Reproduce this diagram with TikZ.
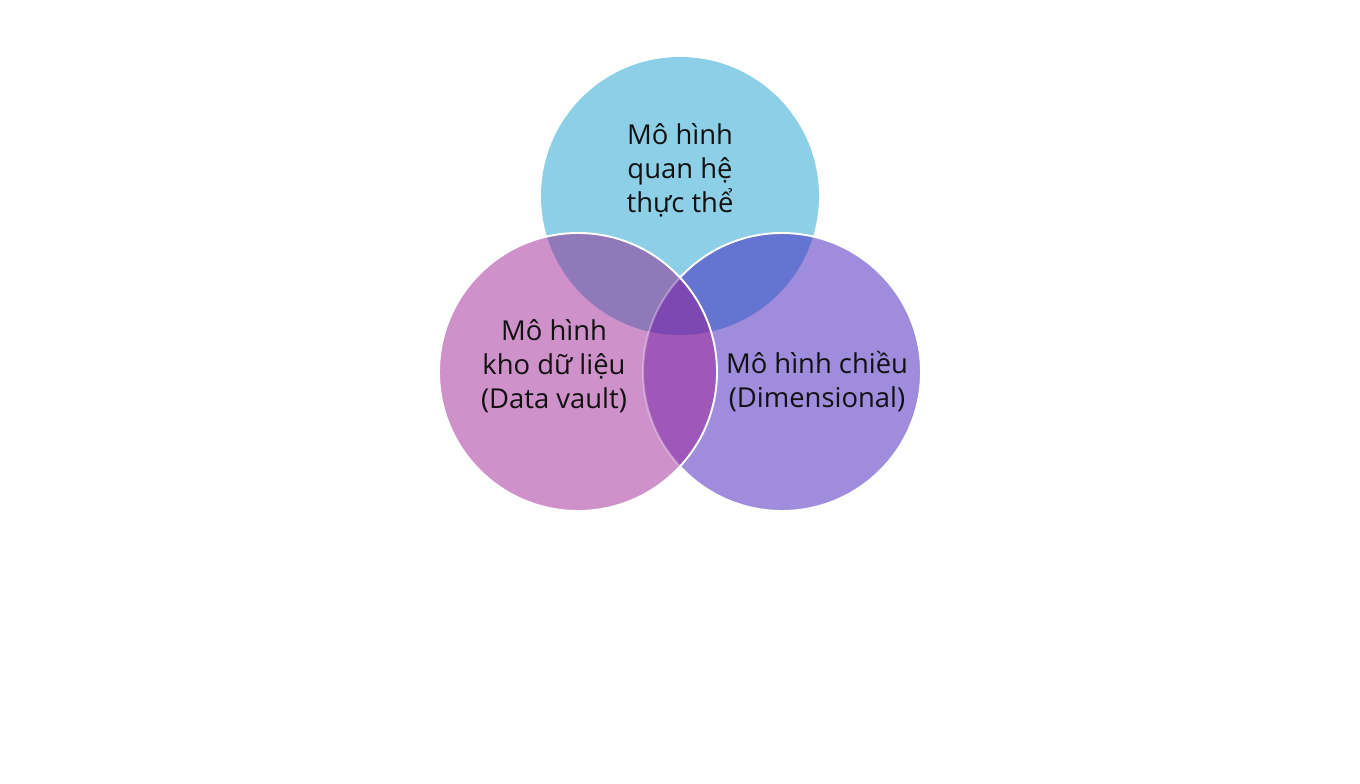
\documentclass[tikz,border=0pt]{standalone}
\usepackage{fontspec}
\setmainfont{Open Sans}
\usetikzlibrary{positioning}
\definecolor{erblue}{HTML}{8ECFE8}
\definecolor{dvpink}{HTML}{CF91C9}
\definecolor{dmpurple}{HTML}{9F8CDC}
\definecolor{erdv}{HTML}{9079B8}
\definecolor{erdm}{HTML}{6474D0}
\definecolor{dvdm}{HTML}{A058B8}
\definecolor{allthree}{HTML}{7E48B2}
\definecolor{labelink}{HTML}{111111}

\begin{document}
\begin{tikzpicture}[thick,
    venn label/.style={align=center, inner sep=0pt, text=labelink,
                       font=\fontsize{15.6}{19.3}\selectfont},
    rim/.style={draw=white, line width=1.1pt}]

  \useasboundingbox (0,0) rectangle (27.2,15.68);

  \coordinate (er) at (13.6,11.76);
  \coordinate (dv) at (11.56,8.24);
  \coordinate (dm) at (15.64,8.24);

  % plain regions
  \fill[erblue] (er) circle (2.78);
  \fill[dmpurple] (dm) circle (2.78);
  \fill[dvpink] (dv) circle (2.78);

  % overlaps
  \begin{scope}
    \clip (er) circle (2.78);
    \fill[erdv] (dv) circle (2.78);
    \fill[erdm] (dm) circle (2.78);
  \end{scope}
  \begin{scope}
    \clip (dv) circle (2.78);
    \fill[dvdm] (dm) circle (2.78);
    \clip (er) circle (2.78);
    \fill[allthree] (dm) circle (2.78);
  \end{scope}

  % white rims
  \draw[rim] (dm) ++(-137.2:2.78) arc[start angle=-137.2, end angle=137.2, radius=2.78];
  \draw[rim, draw opacity=0.35] (dm) ++(137.2:2.78) arc[start angle=137.2, end angle=222.8, radius=2.78];
  \draw[rim] (dv) circle (2.78);

  \node[venn label] (erlabel) at ([yshift=0.52cm]er) {Mô hình\\quan hệ\\thực thể};
  \node[venn label] (dvlabel) at ([shift={(-0.48,0.12)}]dv) {Mô hình\\kho dữ liệu\\(Data vault)};
  \node[venn label] (dmlabel) at ([shift={(0.7,-0.2)}]dm) {Mô hình chiều\\(Dimensional)};
\end{tikzpicture}
\end{document}
